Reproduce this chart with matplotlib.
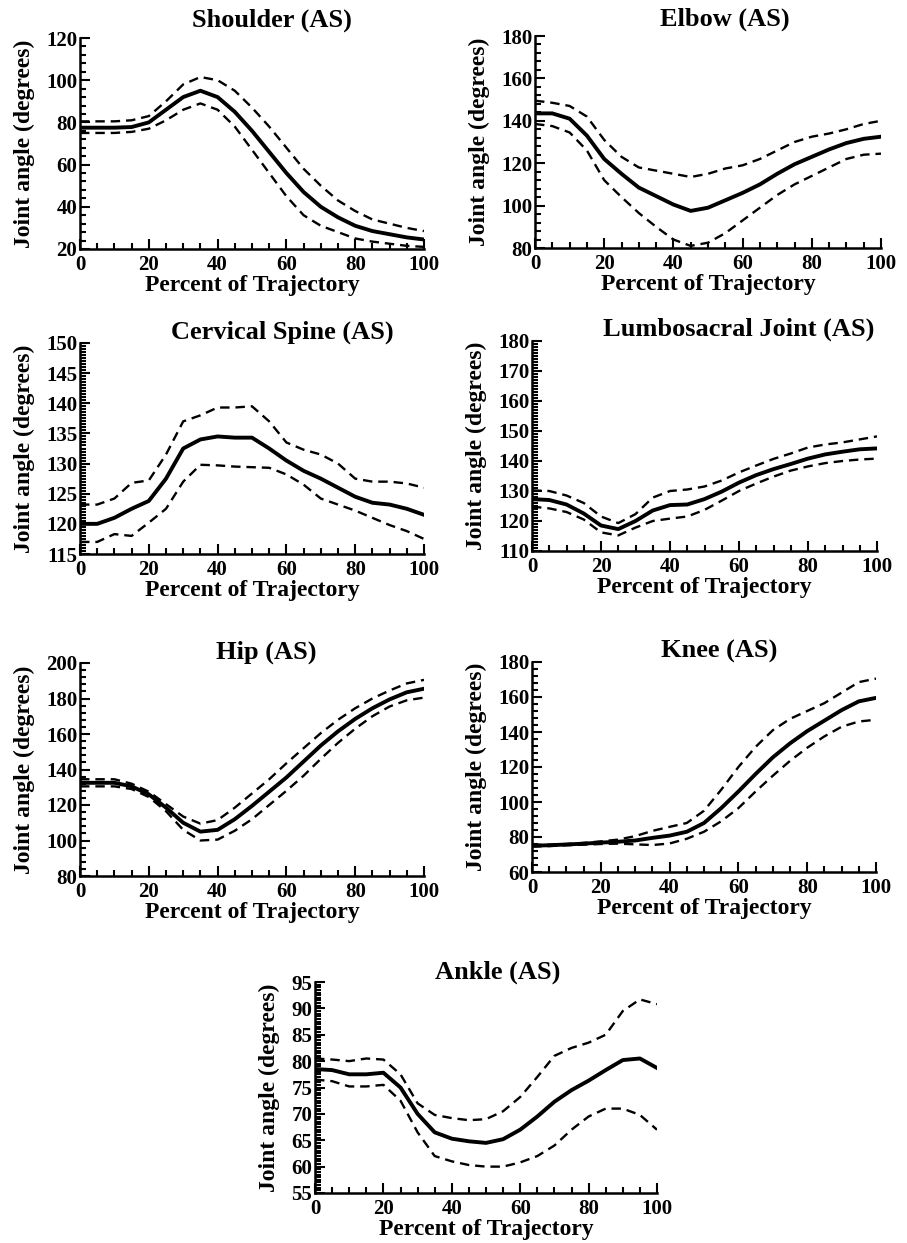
# joint angle trajectories, mean +/- sd, seven joints
import matplotlib.pyplot as plt
from matplotlib.ticker import MultipleLocator

plt.rcParams['font.family'] = ['Liberation Serif', 'DejaVu Serif']
plt.rcParams['font.weight'] = 'bold'

pct = [0, 5, 10, 15, 20, 25, 30, 35, 40, 45, 50, 55, 60, 65, 70, 75, 80, 85, 90, 95, 100]

shoulder_mean = [77.5, 77.5, 77.5, 77.8, 80, 86, 92, 95, 92, 85, 76, 66, 56, 47, 40, 35, 31, 28.5, 27, 25.5, 24.5]
shoulder_hi = [80.5, 80.5, 80.5, 81, 83, 90, 98, 101.5, 100, 95, 87, 78, 68, 58, 50, 43, 38, 34, 32, 30, 28.5]
shoulder_lo = [75, 75, 75, 75.5, 77, 81, 86, 89, 86, 78, 67, 56, 45, 36, 31, 28, 25, 23.5, 22.5, 21.5, 21]

elbow_mean = [143.5, 143.5, 141, 133, 122, 115, 108.5, 104.5, 100.5, 97.5, 99, 102.5, 106, 110, 115, 119.5, 123, 126.5, 129.5, 131.5, 132.5]
elbow_hi = [149.5, 148.5, 147, 142, 131, 123, 118, 116.5, 115, 113.5, 115, 117.5, 119, 122, 126, 130, 132.5, 134, 136, 138.5, 140]
elbow_lo = [138.5, 137.5, 134.5, 126, 112, 104, 96.5, 90, 84, 81, 82.5, 87, 93, 99, 105, 110, 114, 118, 122, 124, 124.5]

cervical_mean = [120, 120, 121, 122.5, 123.8, 127.5, 132.5, 134, 134.5, 134.3, 134.3, 132.5, 130.5, 128.8, 127.5, 126, 124.5, 123.5, 123.2, 122.5, 121.5]
cervical_hi = [123.2, 123.2, 124.2, 126.8, 127.2, 131.5, 137, 138, 139.3, 139.3, 139.5, 137, 133.5, 132.3, 131.5, 130, 127.5, 127, 127, 126.7, 126]
cervical_lo = [117, 117, 118.3, 118, 120.2, 122.5, 127, 129.8, 129.7, 129.5, 129.4, 129.3, 128.2, 126.5, 124.2, 123.2, 122.2, 121, 119.8, 118.8, 117.5]

lumbo_mean = [127.3, 127, 125.5, 122.5, 118.5, 117.3, 120, 123.5, 125.3, 125.5, 127.3, 129.8, 132.8, 135.3, 137.3, 139, 140.8, 142.2, 143.1, 143.9, 144.2]
lumbo_hi = [130.2, 130, 128.5, 126, 121.5, 119.3, 122.3, 127.8, 130, 130.5, 131.5, 133.5, 136.2, 138.5, 140.7, 142.5, 144.5, 145.5, 146.2, 147.2, 148.2]
lumbo_lo = [124.8, 124.2, 123, 120.5, 116.2, 115.2, 117.8, 120, 120.8, 121.5, 123.7, 126.8, 130, 132.5, 134.8, 136.8, 138.2, 139.3, 140, 140.5, 140.8]

hip_mean = [132.5, 132.5, 132.5, 130.5, 126, 118.5, 110, 105, 106, 112, 119.5, 127.5, 135.5, 144.5, 153.5, 161.5, 168.5, 174.5, 179.5, 183.5, 185.5]
hip_hi = [134.5, 134.5, 134.5, 132, 127.5, 120.5, 113.5, 109.5, 111.5, 118.5, 126.5, 134.5, 143.5, 152, 160.5, 168, 174.5, 180, 184.5, 188.5, 190.5]
hip_lo = [130.5, 130.5, 130.5, 129, 124.5, 116.5, 106, 100, 100.5, 105.5, 112, 120, 128, 136.5, 146, 155, 163, 170, 175.5, 179, 180.5]

knee_mean = [75, 75.3, 75.7, 76.2, 76.8, 77.3, 78, 79.5, 80.8, 83, 88, 96.5, 106, 116, 125.5, 133.5, 140.5, 146.5, 152.5, 157.5, 159.5]
knee_hi = [75.5, 75.6, 76, 76.6, 77.5, 78.5, 80.5, 83.5, 85.8, 88, 95, 107, 120, 131.5, 141, 147.5, 152, 156.5, 162.5, 168.5, 170.5]
knee_lo = [74.5, 74.8, 75.3, 75.6, 76, 76.2, 75.8, 75.4, 76.3, 79, 83, 89, 96.5, 106, 115, 123.5, 131, 137.5, 143, 146, 147]

ankle_mean = [78.5, 78.3, 77.5, 77.5, 77.8, 75, 70, 66.5, 65.3, 64.8, 64.5, 65.2, 67, 69.5, 72.3, 74.5, 76.3, 78.3, 80.2, 80.5, 78.7]
ankle_hi = [80.5, 80.3, 80, 80.5, 80.3, 77.5, 72, 69.8, 69.2, 68.8, 69, 70.5, 73.2, 77, 81, 82.5, 83.5, 85, 89.5, 91.7, 90.8]
ankle_lo = [76.5, 76.2, 75.2, 75.2, 75.5, 72.5, 66.5, 62, 61, 60.3, 60, 60, 60.8, 62, 64, 67, 69.5, 71, 71, 69.8, 67]

# title, mean, hi, lo, ylim, major step, minor step
panels = [
    ('Shoulder (AS)', shoulder_mean, shoulder_hi, shoulder_lo, (20, 120), 20, 4),
    ('Elbow (AS)', elbow_mean, elbow_hi, elbow_lo, (80, 180), 20, 4),
    ('Cervical Spine (AS)', cervical_mean, cervical_hi, cervical_lo, (115, 150), 5, 0.5),
    ('Lumbosacral Joint (AS)', lumbo_mean, lumbo_hi, lumbo_lo, (110, 180), 10, 1),
    ('Hip (AS)', hip_mean, hip_hi, hip_lo, (80, 200), 20, 4),
    ('Knee (AS)', knee_mean, knee_hi, knee_lo, (60, 180), 20, 4),
    ('Ankle (AS)', ankle_mean, ankle_hi, ankle_lo, (55, 95), 5, 0.5),
]

W, H = 907, 1243
# axes boxes in pixels: left, top, right, bottom; title centre x, y
boxes = [
    (80, 38, 424, 249, 272, 20),
    (535, 36, 881, 248, 725, 19),
    (80, 343, 424, 554, 282, 332),
    (532, 341, 877, 551, 739, 329),
    (80, 663, 424, 876, 266, 652),
    (532, 662, 876, 872, 719, 651),
    (315, 982, 657, 1193, 498, 972),
]

fig = plt.figure(figsize=(W / 100, H / 100), dpi=100)

for (title, mean, hi, lo, ylim, major, minor), (l, t, r, b, tx, ty) in zip(panels, boxes):
    ax = fig.add_axes([l / W, 1 - b / H, (r - l) / W, (b - t) / H])
    ax.plot(pct, hi, color='black', lw=1.7, ls=(0, (4, 2.5)))
    ax.plot(pct, lo, color='black', lw=1.7, ls=(0, (4, 2.5)))
    ax.plot(pct, mean, color='black', lw=2.8, solid_joinstyle='round')

    ax.set_xlim(0, 100)
    ax.set_ylim(*ylim)
    ax.xaxis.set_major_locator(MultipleLocator(20))
    ax.xaxis.set_minor_locator(MultipleLocator(5))
    ax.yaxis.set_major_locator(MultipleLocator(major))
    ax.yaxis.set_minor_locator(MultipleLocator(minor))
    ax.tick_params(which='both', direction='in', width=1.5, labelsize=15)
    ax.tick_params(axis='x', pad=4)
    ax.tick_params(axis='y', pad=2)
    ax.tick_params(which='major', length=7)
    ax.tick_params(which='minor', length=4)

    for side in ['top', 'right']:
        ax.spines[side].set_visible(False)
    for side in ['left', 'bottom']:
        ax.spines[side].set_linewidth(1.8)

    ax.set_xlabel('Percent of Trajectory', fontsize=17, fontweight='bold', labelpad=0)
    ax.set_ylabel('Joint angle (degrees)', fontsize=17, fontweight='bold', labelpad=8)
    fig.text(tx / W, 1 - ty / H, title, fontsize=19, fontweight='bold', ha='center', va='center')

fig.savefig('out.png', dpi=100)
